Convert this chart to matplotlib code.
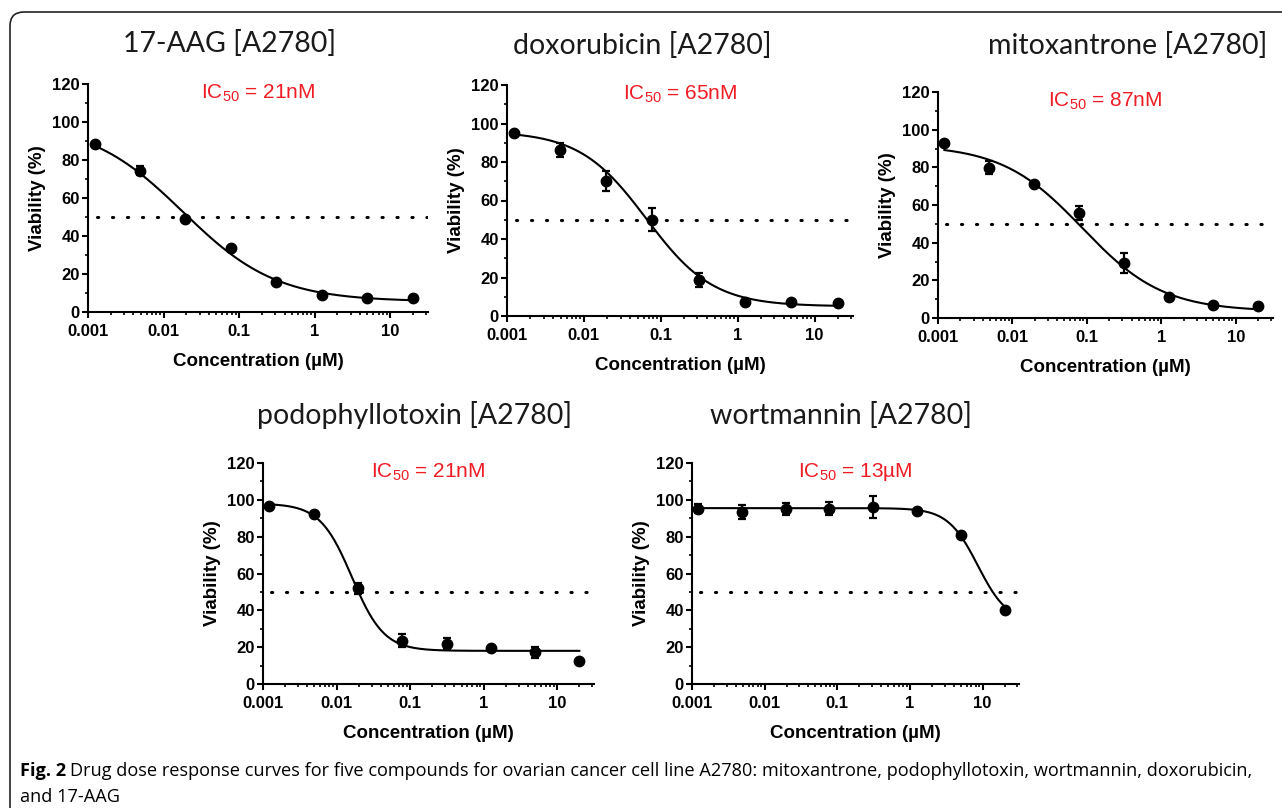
import numpy as np
import matplotlib
matplotlib.use("Agg")
import matplotlib.pyplot as plt
from matplotlib.patches import FancyBboxPatch
from matplotlib.ticker import FixedLocator, MultipleLocator, NullFormatter

plt.rcParams['font.family'] = ['Liberation Sans', 'DejaVu Sans']
plt.rcParams['mathtext.fontset'] = 'custom'
plt.rcParams['mathtext.rm'] = 'Liberation Sans'
plt.rcParams['mathtext.default'] = 'regular'

W, H = 1282, 808

# 4-fold dilution series, uM
conc = [0.00122, 0.00488, 0.0195, 0.078, 0.3125, 1.25, 5.0, 20.0]

drugs = ["17-AAG", "doxorubicin", "mitoxantrone", "podophyllotoxin", "wortmannin"]
ic50_txt = ["21nM", "65nM", "87nM", "21nM", "13\u00b5M"]

# mean viability (%) and error per drug
aag_mean = [88.5, 74.3, 48.8, 33.6, 15.8, 9.0, 7.4, 7.4]
aag_err = [0, 2.3, 0, 0, 0, 0, 0, 0]
dox_mean = [95.2, 86.2, 70.1, 49.9, 18.7, 7.3, 7.4, 6.9]
dox_err = [0, 3.5, 5.0, 6.0, 3.5, 0, 0, 0]
mito_mean = [92.7, 79.8, 71.3, 55.8, 29.2, 11.0, 7.1, 6.6]
mito_err = [0, 3.5, 0, 3.7, 5.5, 0, 0, 0]
podo_mean = [96.4, 92.4, 52.0, 23.4, 21.8, 19.8, 17.2, 12.5]
podo_err = [0, 0, 3.0, 3.5, 3.0, 0, 3.0, 0]
wort_mean = [95.2, 93.4, 95.2, 95.2, 95.9, 93.9, 80.7, 40.2]
wort_err = [2.3, 3.6, 3.2, 3.4, 6.0, 0, 0, 0]

means = [aag_mean, dox_mean, mito_mean, podo_mean, wort_mean]
errs = [aag_err, dox_err, mito_err, podo_err, wort_err]

# 4PL fit parameters (top, bottom, EC50 uM, hill) estimated from the curves
fit_top = [100.0, 96.0, 92.0, 98.0, 95.5]
fit_bot = [5.5, 5.0, 3.5, 18.0, 33.0]
fit_ec50 = [0.018, 0.065, 0.087, 0.0162, 8.6]
fit_hill = [0.7, 1.0, 0.8, 2.0, 2.1]

# axes boxes in pixels: left, top, right, bottom
boxes = [(88, 84, 428, 312), (507, 85, 853, 316), (938, 92, 1273, 318),
         (263, 463, 594, 684), (692, 463, 1019, 684)]
title_xy = [(230, 43), (642, 45), (1128, 45), (415, 415), (841, 416)]

XMAX = 10 ** 1.5


def four_pl(x, top, bot, ec50, hill):
    return bot + (top - bot) / (1 + (x / ec50) ** hill)


fig = plt.figure(figsize=(W / 100, H / 100), dpi=100)
bg = fig.add_axes([0, 0, 1, 1], zorder=-1)
bg.set_xlim(0, W)
bg.set_ylim(H, 0)
bg.axis("off")
bg.add_patch(FancyBboxPatch((10, 12), 1320, 860, boxstyle="round,pad=0,rounding_size=14",
                            fc="none", ec="#222222", lw=1.2))

for i, drug in enumerate(drugs):
    l, t, r, b = boxes[i]
    ax = fig.add_axes([l / W, 1 - b / H, (r - l) / W, (b - t) / H])
    ax.set_xscale("log")
    ax.set_xlim(0.001, XMAX)
    ax.set_ylim(0, 120)

    xs = np.logspace(np.log10(conc[0]), np.log10(conc[-1]), 300)
    ax.plot(xs, four_pl(xs, fit_top[i], fit_bot[i], fit_ec50[i], fit_hill[i]),
            color="k", lw=1.5, zorder=3)
    ax.errorbar(conc, means[i], yerr=errs[i], fmt="o", color="k", ms=7.5,
                capsize=3, elinewidth=1.6, capthick=1.6, zorder=4)
    ax.plot([0.0013, XMAX], [50, 50], color="k", lw=2.2,
            linestyle=(0, (0.4, 4.5)), dash_capstyle="round", zorder=2)
    ax.text(np.sqrt(0.001 * XMAX), 115, f"IC$_{{50}}$ = {ic50_txt[i]}",
            color="#ee1c25", fontsize=15, ha="center", va="center")

    for s in ("top", "right"):
        ax.spines[s].set_visible(False)
    for s in ("left", "bottom"):
        ax.spines[s].set_linewidth(1.5)

    ax.xaxis.set_major_locator(FixedLocator([0.001, 0.01, 0.1, 1, 10]))
    ax.set_xticklabels(["0.001", "0.01", "0.1", "1", "10"])
    ax.xaxis.set_minor_locator(FixedLocator(
        [m * 10.0 ** e for e in range(-3, 2) for m in range(2, 10) if m * 10.0 ** e < 31]))
    ax.xaxis.set_minor_formatter(NullFormatter())
    ax.yaxis.set_major_locator(MultipleLocator(20))
    ax.yaxis.set_minor_locator(MultipleLocator(10))
    ax.tick_params(which="major", length=4, width=1.5, labelsize=12)
    ax.tick_params(axis="x", which="major", pad=5)
    ax.tick_params(axis="y", which="major", pad=2)
    ax.tick_params(which="minor", length=2.5, width=1.2)
    for lab in ax.get_xticklabels() + ax.get_yticklabels():
        lab.set_fontweight("bold")

    ax.set_xlabel("Concentration (\u00b5M)", fontsize=13.5, fontweight="bold", labelpad=10)
    ax.set_ylabel("Viability (%)", fontsize=13.5, fontweight="bold", labelpad=4)

    tx, ty = title_xy[i]
    bg.text(tx, ty, f"{drug} [A2780]", fontsize=20.5, family=["Lato", "DejaVu Sans"],
            ha="center", va="center", color="#1a1a1a")

cap_font = ["Open Sans", "DejaVu Sans"]
cap_size = 13.1
t1 = bg.text(20, 771, "Fig. 2", fontsize=cap_size, fontweight="bold", family=cap_font,
             ha="left", va="center")
fig.canvas.draw()
bb = t1.get_window_extent()
bg.text(20 + bb.width + 4, 771,
        "Drug dose response curves for five compounds for ovarian cancer cell line A2780: "
        "mitoxantrone, podophyllotoxin, wortmannin, doxorubicin,",
        fontsize=cap_size, family=cap_font, ha="left", va="center")
bg.text(20, 797, "and 17-AAG", fontsize=cap_size, family=cap_font, ha="left", va="center")

fig.savefig("out.png", dpi=100)
